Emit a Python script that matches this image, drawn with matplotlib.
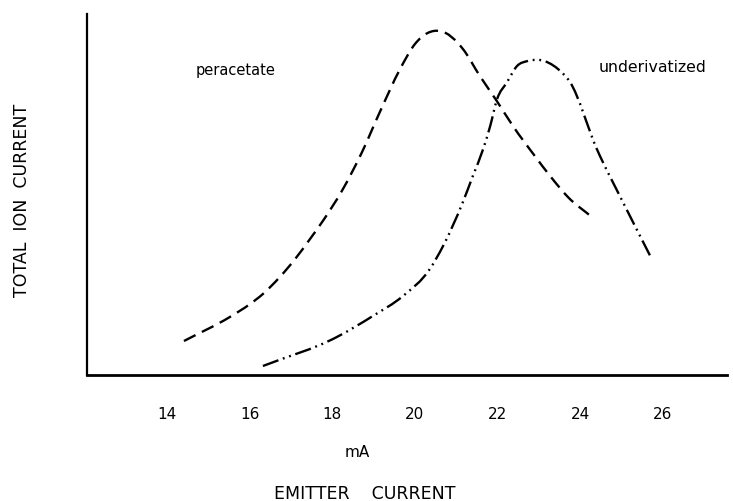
import matplotlib
matplotlib.use("Agg")
import matplotlib.pyplot as plt
from matplotlib.path import Path
from matplotlib.patches import PathPatch

# Peracetate (dashed)
per_x = [14.41, 15.52, 16.01, 16.32, 16.73, 17.10, 17.46, 17.77, 18.23, 18.72,
         19.15, 19.64, 20.00, 20.61, 21.16, 21.57, 21.98, 22.37, 22.90, 23.27,
         23.70, 24.28]
per_y = [34, 58, 71, 81, 98, 116, 136, 154, 184, 223,
         263, 306, 331, 344, 326, 299, 274, 249, 219, 199,
         178, 158]

# Underivatized (dash-dot-dot)
und_x = [16.32, 18.11, 18.98, 19.71, 20.36, 20.68, 21.16, 21.40, 21.65, 21.82,
         21.98, 22.23, 22.47, 22.73, 23.02, 23.46, 23.75, 24.40, 25.03, 25.73]
und_y = [9, 38, 59, 79, 106, 129, 173, 199, 226, 249,
         275, 293, 309, 314, 315, 306, 293, 226, 173, 116]

xticks = [14, 16, 18, 20, 22, 24, 26]


def smooth_path(xs, ys):
    """Cubic Hermite curve y(x) through the given points, as Bezier segments."""
    n = len(xs)
    h = [xs[i + 1] - xs[i] for i in range(n - 1)]
    d = [(ys[i + 1] - ys[i]) / h[i] for i in range(n - 1)]
    m = [d[0]]
    for i in range(1, n - 1):
        m.append((d[i - 1] * h[i] + d[i] * h[i - 1]) / (h[i - 1] + h[i]))
    m.append(d[-1])
    verts = [(xs[0], ys[0])]
    codes = [Path.MOVETO]
    for i in range(n - 1):
        c1 = (xs[i] + h[i] / 3.0, ys[i] + m[i] * h[i] / 3.0)
        c2 = (xs[i + 1] - h[i] / 3.0, ys[i + 1] - m[i + 1] * h[i] / 3.0)
        verts += [c1, c2, (xs[i + 1], ys[i + 1])]
        codes += [Path.CURVE4] * 3
    return Path(verts, codes)


fig = plt.figure(figsize=(7.33, 5.02), dpi=100)
ax = fig.add_axes([87/733, 126/502, 640/733, 361/502])

ax.add_patch(PathPatch(smooth_path(per_x, per_y), fill=False, edgecolor="black",
                       lw=1.7, linestyle=(0, (5.5, 3)), capstyle="butt"))
ax.add_patch(PathPatch(smooth_path(und_x, und_y), fill=False, edgecolor="black",
                       lw=1.7, linestyle=(0, (7, 2, 0.8, 2, 0.8, 2)), capstyle="butt"))

ax.set_xlim(12.064, 27.55)
ax.set_ylim(0, 361)
ax.set_xticks(xticks)
ax.set_xticklabels([str(t) for t in xticks])
ax.set_yticks([])
ax.tick_params(axis="x", length=0, pad=22, labelsize=11)
for s in ["top", "right"]:
    ax.spines[s].set_visible(False)
ax.spines["left"].set_linewidth(1.6)
ax.spines["bottom"].set_linewidth(2.0)

ax.text(14.7, 306, "peracetate", fontsize=10.5, ha="left", va="center")
ax.text(24.45, 309, "underivatized", fontsize=11.3, ha="left", va="center")

fig.text(357/733, 1 - 453/502, "mA", fontsize=11, ha="center", va="center")
fig.text(365/733, 1 - 494/502, "EMITTER    CURRENT", fontsize=12.5, ha="center", va="center")
fig.text(22/733, 1 - 200/502, "TOTAL  ION  CURRENT", fontsize=12.5, ha="center",
         va="center", rotation=90)

fig.savefig("out.png", dpi=100)
